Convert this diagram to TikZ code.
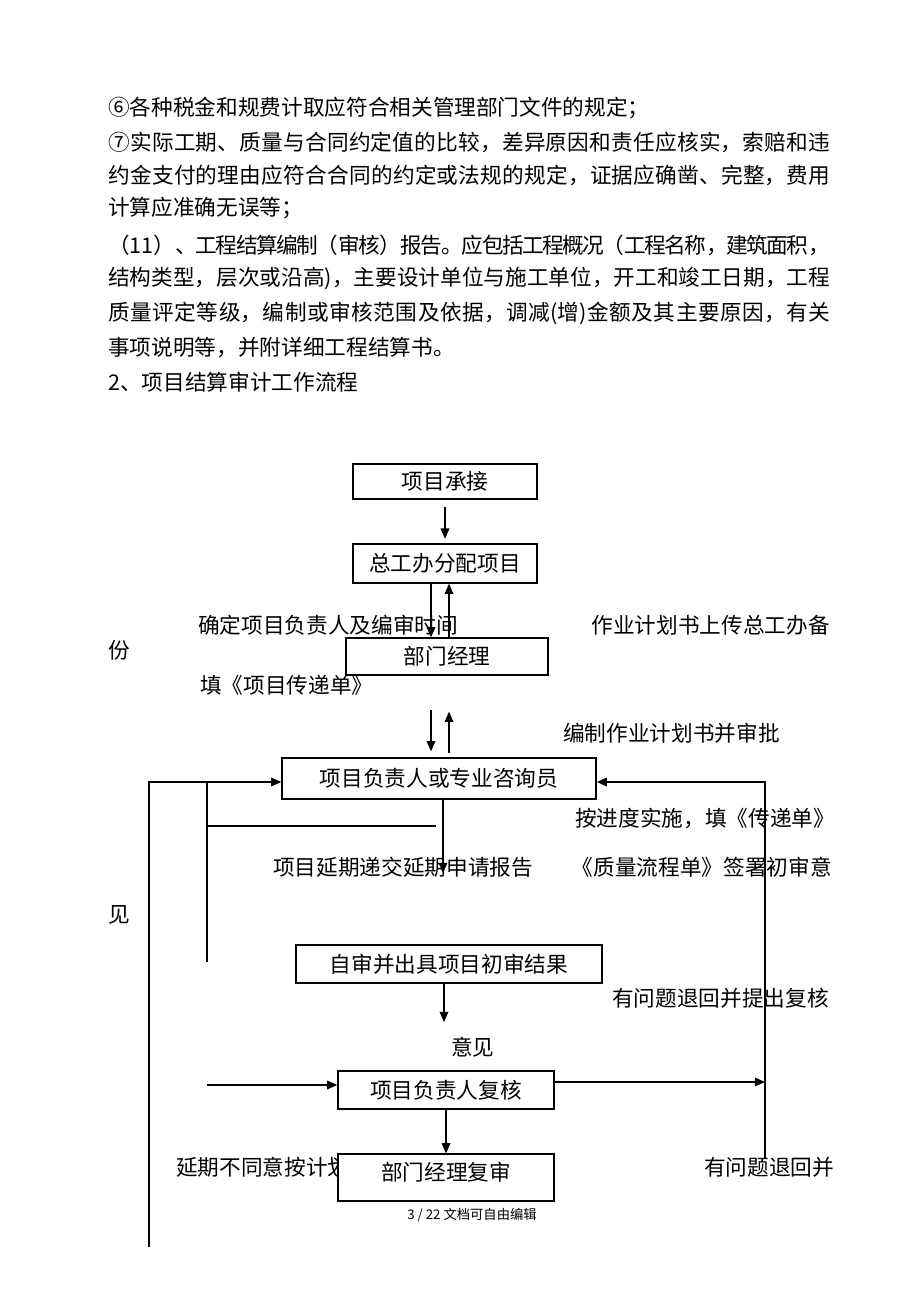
\documentclass[tikz,border=0pt]{standalone}
\usepackage{fontspec}
\setmainfont{Noto Sans CJK SC}
\newfontfamily\zhfont{Noto Sans CJK SC}
\usetikzlibrary{arrows.meta}

\newcommand{\zhsize}{\zhfont\fontsize{14pt}{16pt}\selectfont}
\newcommand{\footsize}{\zhfont\fontsize{8.6pt}{9pt}\selectfont}
\newcommand{\jline}[1]{\parbox{466.9pt}{\XeTeXlinebreaklocale "zh"\XeTeXlinebreakskip=0pt plus 2pt minus 1.8pt\relax\parfillskip=0pt\relax #1}}

\tikzset{
  txt/.style={anchor=west, inner sep=0pt, font=\zhsize},
  box/.style={draw, line width=0.9pt, fill=white, inner sep=0pt, font=\zhsize},
  arr/.style={-{Triangle[length=6.6pt,width=5.6pt]}, line width=0.8pt},
  ln/.style={line width=0.8pt}
}

\begin{document}
\begin{tikzpicture}[x=0.6467pt,y=-0.6467pt]
\fill[white] (0,0) rectangle (920,1302);
\useasboundingbox (0,0) rectangle (920,1302);

\node[txt] (p6) at (108,108) {⑥各种税金和规费计取应符合相关管理部门文件的规定；};
\foreach \y/\t [count=\i] in {142/{⑦实际工期、质量与合同约定值的比较，差异原因和责任应核实，索赔和违},
  175/{约金支付的理由应符合合同的约定或法规的规定，证据应确凿、完整，费用},
  245/{（11）、工程结算编制（审核）报告。应包括工程概况（工程名称，建筑面积，},
  278/{结构类型，层次或沿高)，主要设计单位与施工单位，开工和竣工日期，工程},
  313/{质量评定等级，编制或审核范围及依据，调减(增)金额及其主要原因，有关}}{
  \node[txt] (j\i) at (108,\y) {\jline{\t}};
}
\node[txt] (p7) at (108,208) {计算应准确无误等；};
\node[txt] (p11) at (108,348) {事项说明等，并附详细工程结算书。};
\node[txt] (title) at (108,382) {2、项目结算审计工作流程};

\node[txt] (t1) at (198,625) {确定项目负责人及编审时间};
\node[txt, anchor=east] (t2) at (830,625) {作业计划书上传总工办备};
\node[txt] (t2b) at (108,650) {份};
\node[txt] (t3) at (200,685) {填《项目传递单》};
\node[txt] (t4) at (563,733) {编制作业计划书并审批};
\node[txt] (t5) at (575,818) {按进度实施，填《传递单》};
\node[txt] (t6) at (273,867) {项目延期递交延期申请报告};
\node[txt, anchor=east] (t7) at (832,867) {《质量流程单》签署初审意};
\node[txt] (t7b) at (108,915) {见};
\node[txt] (t8) at (612,998) {有问题退回并提出复核};
\node[txt] (t8b) at (451,1047) {意见};
\node[txt] (t9) at (176,1167) {延期不同意按计划};
\node[txt] (t10) at (704,1167) {有问题退回并};

\node[box, minimum width=119pt, minimum height=22.6pt] (xmcj) at (445,481.5) {项目承接};
\node[box, minimum width=119pt, minimum height=25.2pt] (zgb) at (445,563.5) {总工办分配项目};
\node[box, minimum width=130.6pt, minimum height=23.9pt] (bmjl) at (447,656.5) {部门经理};
\node[box, minimum width=203.1pt, minimum height=26.5pt] (fzr) at (439,778.5) {项目负责人或专业咨询员};
\node[box, minimum width=197.9pt, minimum height=24.6pt] (zs) at (449,964) {自审并出具项目初审结果};
\node[box, minimum width=139.7pt, minimum height=24.6pt] (fh) at (446,1090) {项目负责人复核};
\node[box, minimum width=139.7pt, text height=16.9pt, text depth=13.4pt] (fs) at (446,1177.5) {部门经理复审};

\node[anchor=west, inner sep=0pt, font=\footsize] (ft) at (407,1215) {3 / 22 文档可自由编辑};

\coordinate (dnx) at (431,0);
\coordinate (upx) at (449,0);
\coordinate (ltop) at (149,782);
\coordinate (lbot) at (149,1247);
\coordinate (mtop) at (207,782);
\coordinate (mbot) at (207,962);
\coordinate (mbar) at (436,826);
\coordinate (rtop) at (765,782);
\coordinate (rbot) at (765,1158);
\coordinate (fzrend) at (443,873);
\coordinate (zsend) at (444,1022);
\coordinate (fhin) at (207,1085);
\coordinate (fhout) at (765,1082);

\draw[arr, shorten <=5pt, shorten >=3pt] (xmcj) -- (zgb);
\draw[arr] (zgb.south -| dnx) -- (bmjl.north -| dnx);
\draw[arr] (bmjl.north -| upx) -- (zgb.south -| upx);
\draw[arr, shorten <=22pt, shorten >=3.9pt] (bmjl.south -| dnx) -- (fzr.north -| dnx);
\draw[arr, shorten <=2.6pt, shorten >=23.3pt] (fzr.north -| upx) -- (bmjl.south -| upx);
\draw[arr] (fzr.south -| fzrend) -- (fzrend);
\draw[arr] (lbot) -- (ltop) -- (fzr.west |- ltop);
\draw[arr] (rbot) -- (rtop) -- (fzr.east |- rtop);
\draw[ln] (mbot) -- (mtop);
\draw[ln] (mtop |- mbar) -- (mbar);
\draw[arr] (zs.south -| zsend) -- (zsend);
\draw[arr] (fhin) -- (fh.west |- fhin);
\draw[arr] (fh.east |- fhout) -- (fhout);
\draw[arr] (fh) -- (fs);
\end{tikzpicture}
\end{document}
